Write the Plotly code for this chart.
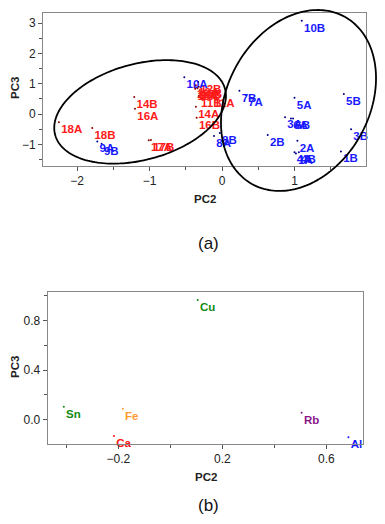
import numpy as np
import plotly.graph_objects as go

W, H = 385, 524
OFF = 8  # page body margin of the browser (figure starts at 8,8)
FW, FH = W - OFF, H - OFF

# ---------------- (a) sample scores ----------------
red_labels = ["11A", "11B", "12A", "12B", "13A", "13B", "14A", "14B",
              "15A", "15B", "16A", "16B", "17A", "17B", "18A", "18B"]
red_pc2 = [-0.14, -0.32, -0.36, -0.33, -0.38, -0.34, -0.36, -1.21,
           -0.37, -0.32, -1.20, -0.35, -1.01, -0.98, -2.25, -1.79]
red_pc3 = [0.59, 0.59, 0.95, 1.06, 0.88, 0.85, 0.24, 0.56,
           0.83, 0.90, 0.17, -0.12, -0.87, -0.86, -0.27, -0.46]

blue_labels = ["1A", "1B", "2A", "2B", "3A", "3B", "4A", "4B", "5A", "5B",
               "6A", "6B", "7A", "7B", "8A", "8B", "9A", "9B", "10A", "10B"]
blue_pc2 = [1.02, 1.64, 1.04, 0.63, 0.87, 1.78, 1.00, 1.06, 1.00, 1.68,
            0.95, 0.98, 0.33, 0.24, -0.11, -0.03, -1.72, -1.66, -0.52, 1.10]
blue_pc3 = [-1.30, -1.24, -0.88, -0.69, -0.11, -0.50, -1.26, -1.26, 0.54, 0.66,
            -0.15, -0.15, 0.63, 0.77, -0.73, -0.63, -0.91, -0.98, 1.21, 3.08]

# group ellipses: centre (PC2, PC3), semi-axes (px), tilt (deg)
ellipse_centers = [(-1.13, 0.07), (1.055, 0.446)]
ellipse_axes = [(88, 48), (95.6, 71.1)]
ellipse_tilts = [15.2, 61.1]

# ---------------- (b) loadings ----------------
elements = ["Cu", "Sn", "Fe", "Ca", "Rb", "Al"]
load_pc2 = [0.105, -0.41, -0.183, -0.217, 0.505, 0.685]
load_pc3 = [0.967, 0.105, 0.089, -0.132, 0.057, -0.142]
element_colors = ["#138a13", "#138a13", "#ff9a2e", "#ff1010", "#8a168a", "#1515ff"]

# ---------------- layout geometry (page pixels) ----------------
A_X = (43, 366); A_Y = (13, 166)
B_X = (47.7, 363); B_Y = (292, 444)
A_XR = [-2.469, 1.986]; A_YR = [-1.716, 3.333]
B_XR = [-0.472, 0.741]; B_YR = [-0.196, 1.032]

FONT = "Arial, Liberation Sans, sans-serif"


def fx(px):
    return (px - OFF) / FW


def fy(py):
    return 1 - (py - OFF) / FH


fig = go.Figure()

fig.add_trace(go.Scatter(
    x=red_pc2, y=red_pc3, text=red_labels, mode="markers+text",
    textposition="bottom right",
    marker=dict(size=2, color="#8b0000"),
    textfont=dict(family=FONT, size=11.5, color="#ff1a1a", weight="bold"),
    xaxis="x", yaxis="y", showlegend=False, cliponaxis=False))
fig.add_trace(go.Scatter(
    x=blue_pc2, y=blue_pc3, text=blue_labels, mode="markers+text",
    textposition="bottom right",
    marker=dict(size=2, color="#00008b"),
    textfont=dict(family=FONT, size=11.5, color="#1a1aff", weight="bold"),
    xaxis="x", yaxis="y", showlegend=False, cliponaxis=False))

fig.add_trace(go.Scatter(
    x=load_pc2, y=load_pc3, text=elements, mode="markers+text",
    textposition="bottom right",
    marker=dict(size=2, color=element_colors),
    textfont=dict(family=FONT, size=11.5, color=element_colors, weight="bold"),
    xaxis="x2", yaxis="y2", showlegend=False, cliponaxis=False))


def to_px(v, rng, pix):
    return pix[0] + (v - rng[0]) / (rng[1] - rng[0]) * (pix[1] - pix[0])


shapes = []
for (cx, cy), (a, b), tilt in zip(ellipse_centers, ellipse_axes, ellipse_tilts):
    pcx = to_px(cx, A_XR, A_X)
    pcy = A_Y[1] - (cy - A_YR[0]) / (A_YR[1] - A_YR[0]) * (A_Y[1] - A_Y[0])
    t = np.linspace(0, 2 * np.pi, 181)
    th = np.radians(tilt)
    px = pcx + a * np.cos(t) * np.cos(th) - b * np.sin(t) * np.sin(th)
    py = pcy - (a * np.cos(t) * np.sin(th) + b * np.sin(t) * np.cos(th))
    pts = [f"{fx(xx):.5f},{fy(yy):.5f}" for xx, yy in zip(px, py)]
    path = "M " + " L ".join(pts) + " Z"
    shapes.append(dict(type="path", path=path, xref="paper", yref="paper",
                       line=dict(color="black", width=1.8)))

axis_common = dict(showline=True, mirror=True, linecolor="#888888", linewidth=1,
                   showgrid=False, zeroline=False, ticks="outside", ticklen=4,
                   tickcolor="#555555", automargin=False,
                   tickfont=dict(family=FONT, size=12, color="#222222"))

fig.update_layout(
    width=FW, height=FH, autosize=False,
    margin=dict(l=0, r=0, t=0, b=0, pad=0),
    paper_bgcolor="white", plot_bgcolor="white",
    xaxis=dict(domain=[fx(A_X[0]), fx(A_X[1])], range=A_XR, anchor="y",
               tick0=0, dtick=1,
               minor=dict(ticks="outside", ticklen=3, dtick=0.5, tickcolor="#555555"),
               **axis_common),
    yaxis=dict(domain=[fy(A_Y[1]), fy(A_Y[0])], range=A_YR, anchor="x",
               tick0=0, dtick=1,
               minor=dict(ticks="outside", ticklen=3, dtick=0.5, tickcolor="#555555"),
               **axis_common),
    xaxis2=dict(domain=[fx(B_X[0]), fx(B_X[1])], range=B_XR, anchor="y2",
                tick0=-0.2, dtick=0.4, tickformat=".1f",
                minor=dict(ticks="outside", ticklen=3, dtick=0.2, tickcolor="#555555"),
                **axis_common),
    yaxis2=dict(domain=[fy(B_Y[1]), fy(B_Y[0])], range=B_YR, anchor="x2",
                tick0=0, dtick=0.4, tickformat=".1f",
                minor=dict(ticks="outside", ticklen=3, dtick=0.2, tickcolor="#555555"),
                **axis_common),
    shapes=shapes,
)

title_font = dict(family=FONT, size=11.5, color="#222222")
ann = [
    dict(text="<b>PC2</b>", x=fx(205), y=fy(199)),
    dict(text="<b>PC3</b>", x=fx(15), y=fy(88), textangle=-90),
    dict(text="<b>PC2</b>", x=fx(206), y=fy(477)),
    dict(text="<b>PC3</b>", x=fx(15), y=fy(367), textangle=-90),
]
for a_ in ann:
    fig.add_annotation(xref="paper", yref="paper", showarrow=False,
                       xanchor="center", yanchor="middle", font=title_font, **a_)

for txt, yy in [("(a)", 244), ("(b)", 505)]:
    fig.add_annotation(text=txt, xref="paper", yref="paper", x=fx(208), y=fy(yy),
                       showarrow=False, xanchor="center", yanchor="middle",
                       font=dict(family=FONT, size=17, color="#111111"))

fig.write_html("out.html")
